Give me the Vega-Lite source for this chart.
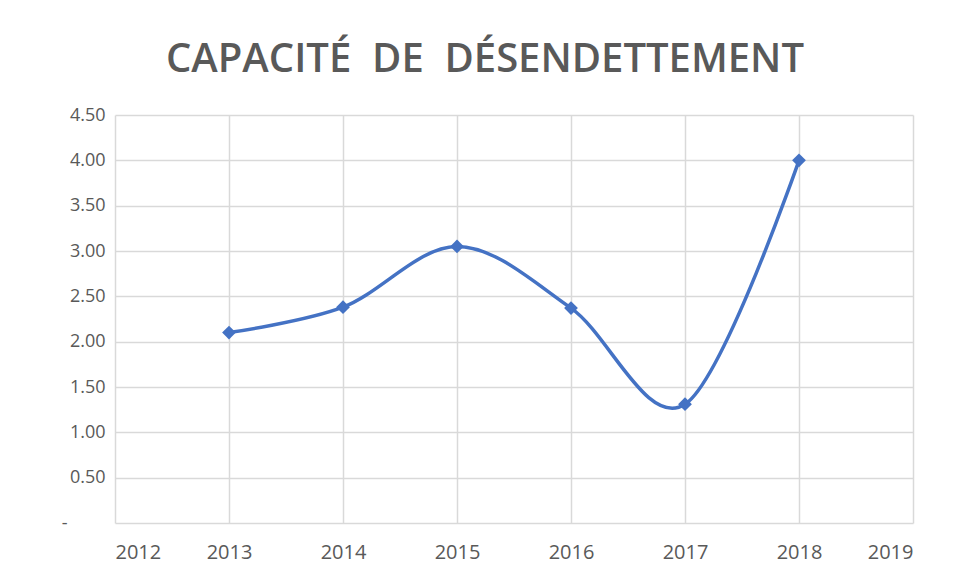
{
  "$schema": "https://vega.github.io/schema/vega-lite/v6.json",
  "autosize": {"type": "none"},
  "width": 798,
  "height": 408,
  "padding": {"left": 115, "top": 115, "right": 42, "bottom": 58},
  "background": "white",
  "title": {
    "text": "CAPACITÉ \u00a0DE \u00a0DÉSENDETTEMENT",
    "anchor": "middle",
    "dx": -29,
    "offset": 26,
    "font": "Open Sans",
    "fontSize": 40,
    "fontWeight": 600,
    "color": "#595959"
  },
  "config": {
    "view": {"stroke": null},
    "axis": {
      "grid": true,
      "gridColor": "#d9d9d9",
      "gridWidth": 1.5,
      "domain": false,
      "ticks": false,
      "labelColor": "#595959",
      "labelFont": "Open Sans",
      "title": null
    }
  },
  "data": {
    "values": [
      {"year": 2013, "value": 2.10},
      {"year": 2014, "value": 2.38},
      {"year": 2015, "value": 3.05},
      {"year": 2016, "value": 2.37},
      {"year": 2017, "value": 1.31},
      {"year": 2018, "value": 4.00}
    ]
  },
  "encoding": {
    "x": {
      "field": "year",
      "type": "quantitative",
      "scale": {"domain": [2012, 2019], "nice": false, "zero": false},
      "axis": {
        "values": [2012, 2013, 2014, 2015, 2016, 2017, 2018, 2019],
        "format": "d",
        "labelFontSize": 20,
        "labelPadding": 19
      }
    },
    "y": {
      "field": "value",
      "type": "quantitative",
      "scale": {"domain": [0, 4.5], "nice": false},
      "axis": {
        "values": [0, 0.5, 1, 1.5, 2, 2.5, 3, 3.5, 4, 4.5],
        "labelExpr": "datum.value == 0 ? '-' : format(datum.value, '.2f')",
        "labelFontSize": 18,
        "labelPadding": {"condition": {"test": "datum.value == 0", "value": 48}, "value": 10}
      }
    }
  },
  "layer": [
    {
      "mark": {"type": "line", "interpolate": "cardinal", "tension": 0, "color": "#4472C4", "strokeWidth": 3.5}
    },
    {
      "mark": {"type": "point", "shape": "diamond", "filled": true, "size": 190, "color": "#4472C4", "opacity": 1}
    }
  ]
}
